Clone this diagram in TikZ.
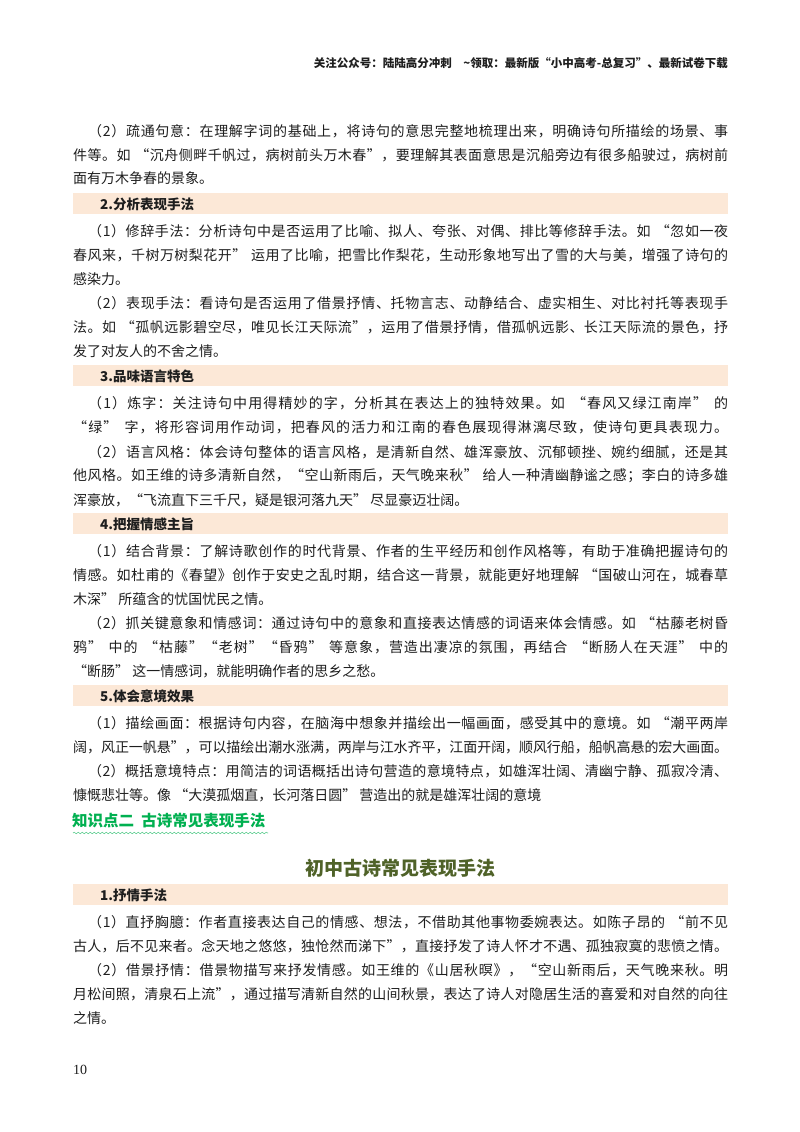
\documentclass[tikz,border=0pt]{standalone}
\usepackage{fontspec}
\setmainfont{Noto Sans CJK SC}
\newfontfamily\numfont{Liberation Serif}
\usetikzlibrary{decorations.pathmorphing}
\ExplSyntaxOn
\cs_new:Npn \spreadtxt #1 { \tl_map_inline:nn {#1} { ##1 \hskip 0pt plus 1pt minus 0.6pt\relax } \unskip }
\ExplSyntaxOff
\definecolor{bandc}{RGB}{252,232,215}
\definecolor{greenh}{RGB}{0,176,80}
\definecolor{olive}{RGB}{79,98,40}
\definecolor{txt}{RGB}{30,30,30}
\tikzset{ln/.style={anchor=west,inner sep=0pt,font=\fontsize{14}{14}\selectfont,text=txt}}
\newcommand\il[2]{\node[ln] at (88,#1) {\hbox to 640pt{\spreadtxt{#2}}};}
\newcommand\fl[2]{\node[ln] at (73,#1) {\hbox to 655pt{\spreadtxt{#2}}};}
\newcommand\lastl[2]{\node[ln] at (73,#1) {#2};}
\newcommand\band[2]{\fill[bandc] (73,#1-11) rectangle (728,#1+10);
  \node[ln,font=\fontsize{13.5}{14}\selectfont\bfseries] at (100,#1) {#2};}
\begin{document}
\begin{tikzpicture}[x=1pt,y=-1pt]
\useasboundingbox[fill=white] (0,0) rectangle (800,1132);
\node[anchor=east,inner sep=0pt,font=\fontsize{11.5}{12}\selectfont\bfseries,text=txt] at (728,63) {关注公众号：陆陆高分冲刺\quad \textasciitilde 领取：最新版“小中高考-总复习”、最新试卷下载};
\il{131}{（2）疏通句意：在理解字词的基础上，将诗句的意思完整地梳理出来，明确诗句所描绘的场景、事}
\fl{155}{件等。如~“沉舟侧畔千帆过，病树前头万木春”，要理解其表面意思是沉船旁边有很多船驶过，病树前}
\lastl{178}{面有万木争春的景象。}
\band{204}{2.分析表现手法}
\il{231}{（1）修辞手法：分析诗句中是否运用了比喻、拟人、夸张、对偶、排比等修辞手法。如~“忽如一夜}
\fl{255}{春风来，千树万树梨花开”~运用了比喻，把雪比作梨花，生动形象地写出了雪的大与美，增强了诗句的}
\lastl{279}{感染力。}
\il{303}{（2）表现手法：看诗句是否运用了借景抒情、托物言志、动静结合、虚实相生、对比衬托等表现手}
\fl{327}{法。如~“孤帆远影碧空尽，唯见长江天际流”，运用了借景抒情，借孤帆远影、长江天际流的景色，抒}
\lastl{351}{发了对友人的不舍之情。}
\band{376}{3.品味语言特色}
\il{403}{（1）炼字：关注诗句中用得精妙的字，分析其在表达上的独特效果。如~“春风又绿江南岸”~的}
\fl{427}{“绿”~字，将形容词用作动词，把春风的活力和江南的春色展现得淋漓尽致，使诗句更具表现力。}
\il{452}{（2）语言风格：体会诗句整体的语言风格，是清新自然、雄浑豪放、沉郁顿挫、婉约细腻，还是其}
\fl{476}{他风格。如王维的诗多清新自然，“空山新雨后，天气晚来秋”~给人一种清幽静谧之感；李白的诗多雄}
\lastl{500}{浑豪放，“飞流直下三千尺，疑是银河落九天” 尽显豪迈壮阔。}
\band{524}{4.把握情感主旨}
\il{551}{（1）结合背景：了解诗歌创作的时代背景、作者的生平经历和创作风格等，有助于准确把握诗句的}
\fl{575}{情感。如杜甫的《春望》创作于安史之乱时期，结合这一背景，就能更好地理解~“国破山河在，城春草}
\lastl{599}{木深” 所蕴含的忧国忧民之情。}
\il{623}{（2）抓关键意象和情感词：通过诗句中的意象和直接表达情感的词语来体会情感。如~“枯藤老树昏}
\fl{647}{鸦”~中的~“枯藤”“老树”“昏鸦”~等意象，营造出凄凉的氛围，再结合~“断肠人在天涯”~中的}
\lastl{671}{“断肠” 这一情感词，就能明确作者的思乡之愁。}
\band{696}{5.体会意境效果}
\il{723}{（1）描绘画面：根据诗句内容，在脑海中想象并描绘出一幅画面，感受其中的意境。如~“潮平两岸}
\fl{747}{阔，风正一帆悬”，可以描绘出潮水涨满，两岸与江水齐平，江面开阔，顺风行船，船帆高悬的宏大画面。}
\il{771}{（2）概括意境特点：用简洁的词语概括出诗句营造的意境特点，如雄浑壮阔、清幽宁静、孤寂冷清、}
\lastl{795}{慷慨悲壮等。像 “大漠孤烟直，长河落日圆” 营造出的就是雄浑壮阔的意境}
\node[anchor=west,inner sep=0pt,font=\fontsize{15.5}{16}\selectfont\bfseries,text=greenh] (kh) at (72,821) {知识点二\ \ 古诗常见表现手法};
\draw[greenh!60,line width=0.6pt,decorate,decoration={snake,amplitude=0.8pt,segment length=4pt}] (73,833) -- (268,833);
\node[inner sep=0pt,font=\fontsize{19}{20}\selectfont\bfseries,text=olive] (title) at (400,868) {初中古诗常见表现手法};
\band{895}{1.抒情手法}
\il{922}{（1）直抒胸臆：作者直接表达自己的情感、想法，不借助其他事物委婉表达。如陈子昂的~“前不见}
\fl{946}{古人，后不见来者。念天地之悠悠，独怆然而涕下”，直接抒发了诗人怀才不遇、孤独寂寞的悲愤之情。}
\il{970}{（2）借景抒情：借景物描写来抒发情感。如王维的《山居秋暝》，“空山新雨后，天气晚来秋。明}
\fl{994}{月松间照，清泉石上流”，通过描写清新自然的山间秋景，表达了诗人对隐居生活的喜爱和对自然的向往}
\lastl{1018}{之情。}
\node[anchor=west,inner sep=0pt,font=\numfont\fontsize{14}{14}\selectfont,text=txt] (pn) at (73,1070) {10};
\end{tikzpicture}
\end{document}
